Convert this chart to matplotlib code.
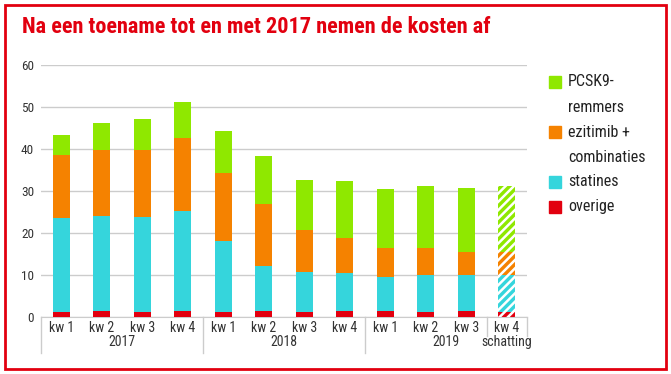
import numpy as np
import matplotlib
matplotlib.use("Agg")
import matplotlib.pyplot as plt
from matplotlib.patches import Rectangle
from matplotlib import transforms

plt.rcParams['font.family'] = ['Roboto Condensed', 'DejaVu Sans']
plt.rcParams['hatch.linewidth'] = 1.8

# data (kosten per kwartaal, stacked)
quarters = ['kw 1', 'kw 2', 'kw 3', 'kw 4'] * 3
years = ['2017', '2018', '2019', 'schatting']
overige = [1.2, 1.4, 1.3, 1.4, 1.3, 1.4, 1.3, 1.4, 1.4, 1.3, 1.4, 1.3]
statines = [22.3, 22.7, 22.5, 23.8, 16.8, 10.7, 9.5, 9.0, 8.1, 8.8, 8.7, 8.8]
ezitimib = [15.0, 15.7, 15.9, 17.4, 16.2, 14.9, 9.9, 8.4, 7.0, 6.4, 5.4, 5.4]
pcsk9 = [4.8, 6.3, 7.4, 8.6, 10.1, 11.3, 12.0, 13.6, 13.9, 14.6, 15.1, 15.6]

series = [overige, statines, ezitimib, pcsk9]
colors = ['#e2000f', '#35d5dc', '#f58200', '#8fe800']
labels = ['overige', 'statines', 'ezitimib +\ncombinaties', 'PCSK9-\nremmers']

RED = '#e2000f'
TXT = '#333333'

fig = plt.figure(figsize=(6.71, 3.74), dpi=100)
ax = fig.add_axes([41 / 671, 1 - 317 / 374, 486 / 671, 252 / 374])

x = np.arange(len(quarters))
bottom = np.zeros(len(x))
for vals, col in zip(series, colors):
    vals = np.array(vals)
    bars = ax.bar(x, vals, bottom=bottom, width=0.42, color=col, linewidth=0, zorder=3)
    # last bar is an estimate -> hatched
    bars[-1].set_hatch('////')
    bars[-1].set_edgecolor('white')
    bottom += vals

ax.set_xlim(-0.5, len(x) - 0.5)
ax.set_ylim(0, 60)
ax.set_yticks(range(0, 61, 10))
ax.yaxis.grid(True, color='#cccccc', linewidth=1)
ax.set_axisbelow(True)
for s in ['top', 'right', 'left']:
    ax.spines[s].set_visible(False)
ax.spines['bottom'].set_color('#cccccc')
ax.tick_params(axis='y', length=0, pad=5, labelsize=9.5, labelcolor=TXT)
ax.set_xticks(x)
ax.set_xticklabels(quarters, fontsize=10, color=TXT)
ax.tick_params(axis='x', length=0, pad=3)

# group labels and separators
trans = transforms.blended_transform_factory(ax.transData, ax.transAxes)
for i, yr in enumerate(years[:3]):
    ax.text(i * 4 + 1.5, -0.1, yr, transform=trans, ha='center', va='center',
            fontsize=10, color=TXT)
ax.text(11, -0.1, years[3], transform=trans, ha='center', va='center',
        fontsize=10, color=TXT)
for xs in [-0.5, 3.5, 7.5]:
    ax.plot([xs, xs], [0, -0.143], transform=trans, color='#cccccc', lw=1, clip_on=False)
for xs in [10.5, 11.5]:
    ax.plot([xs, xs], [0, -0.075], transform=trans, color='#cccccc', lw=1, clip_on=False)

# legend
leg_rows = [(82, 3), (132, 2), (182, 1), (207, 0)]
for ypx, k in leg_rows:
    fig.patches.append(Rectangle((549 / 671, 1 - (ypx + 6) / 374), 12 / 671, 12 / 374,
                                 transform=fig.transFigure, color=colors[k]))
    lines = labels[k].split('\n')
    for j, ln in enumerate(lines):
        fig.text(568 / 671, 1 - (ypx + 25 * j) / 374, ln, ha='left', va='center',
                 fontsize=11.5, color='#222222')

fig.text(22 / 671, 1 - 27 / 374, 'Na een toename tot en met 2017 nemen de kosten af',
         ha='left', va='center', fontsize=16, fontweight='bold', color=RED)

fig.patches.append(Rectangle((5 / 671, 5 / 374), 661 / 671, 364 / 374, transform=fig.transFigure,
                             fill=False, edgecolor=RED, linewidth=2))

fig.savefig('out.png', dpi=100)
